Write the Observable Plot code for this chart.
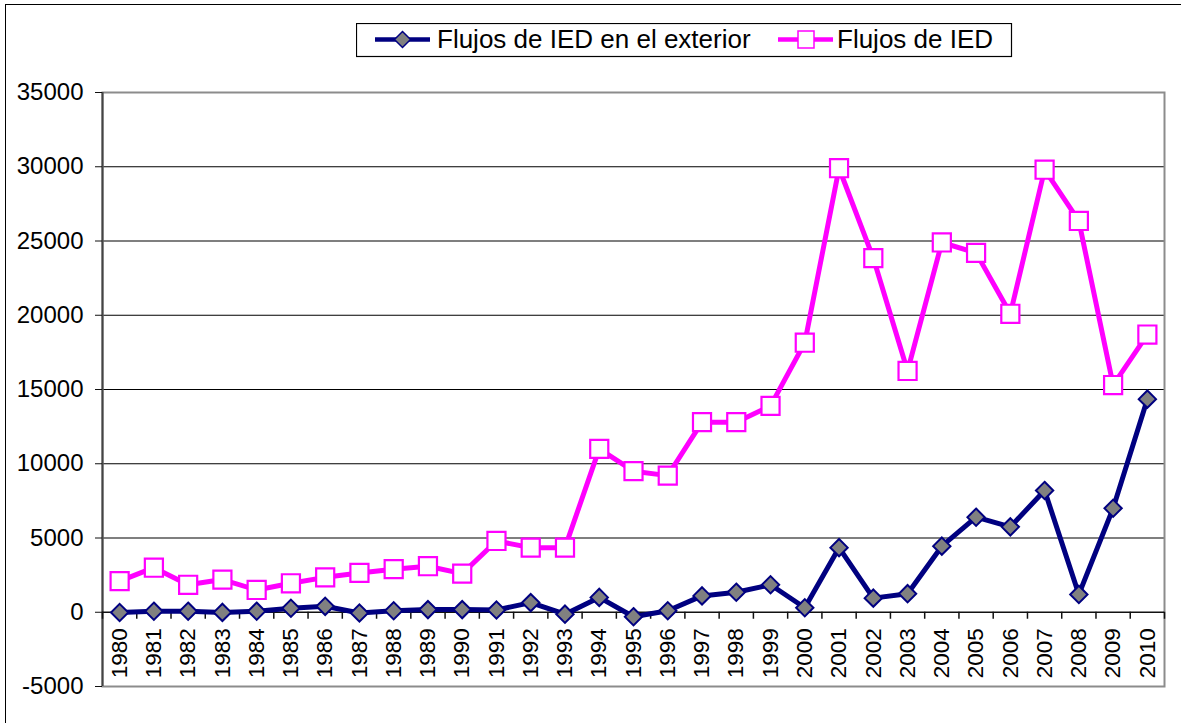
<!DOCTYPE html>
<html><head><meta charset="utf-8">
<script src="https://cdn.jsdelivr.net/npm/d3@7"></script>
<script src="https://cdn.jsdelivr.net/npm/@observablehq/plot@0.6"></script>
<style>
html,body{margin:0;padding:0;background:#fff;overflow:hidden;width:1181px;height:723px}
#wrap{position:relative;width:1181px;height:723px;font-family:"Liberation Sans",Arial,sans-serif}
#outer{position:absolute;left:5px;top:4px;width:1200px;height:740px;border:1.5px solid #000;box-sizing:border-box}
#chart{position:absolute;left:0;top:0}
#legend{position:absolute;left:356px;top:23px}
</style></head><body>
<div id="wrap"><div id="outer"></div><div id="chart"></div><div id="legend"></div></div>
<script>
const years = [1980,1981,1982,1983,1984,1985,1986,1987,1988,1989,1990,1991,1992,1993,1994,1995,1996,1997,1998,1999,2000,2001,2002,2003,2004,2005,2006,2007,2008,2009,2010];
const outward = [-20,70,70,-10,70,270,400,-50,100,180,180,150,650,-130,1000,-300,100,1100,1350,1850,300,4350,950,1250,4450,6400,5750,8200,1200,7000,14350];
const inward = [2100,3000,1850,2200,1500,1950,2350,2650,2900,3100,2600,4800,4350,4350,11000,9500,9200,12800,12800,13900,18150,29900,23850,16250,24900,24200,20100,29800,26350,15300,18700];
const seriesNames = ["Flujos de IED en el exterior","Flujos de IED"];
const yTicks = [-5000,0,5000,10000,15000,20000,25000,30000,35000];
const gridValues = [5000,10000,15000,20000,25000,30000];

const boundaries = years.map(y => y - 0.5).concat([years[years.length - 1] + 0.5]);
const xDomain = [boundaries[0], boundaries[boundaries.length - 1]];
const navy = "#000080", magenta = "#ff00ff";

const plot = Plot.plot({
  width: 1181, height: 723,
  marginLeft: 102, marginRight: 17, marginTop: 92, marginBottom: 37,
  style: {fontFamily: "Liberation Sans, Arial, sans-serif", background: "transparent", overflow: "visible", color: "#000"},
  x: {type: "linear", domain: xDomain, axis: null},
  y: {domain: [-5000, 35000], axis: null},
  marks: [
    Plot.gridY(gridValues, {stroke: "#000", strokeOpacity: 1, strokeWidth: 1.2}),
    Plot.frame({stroke: "#8c8c8c", strokeWidth: 2}),
    Plot.ruleX([xDomain[0]], {stroke: "#444", strokeWidth: 2}),
    Plot.ruleY([0], {stroke: "#111", strokeWidth: 1.5}),
    Plot.ruleX(boundaries, {x: d => d, y1: () => 0, y2: () => 0, insetBottom: -7, stroke: "#111", strokeWidth: 1.5}),
    Plot.axisY(yTicks, {tickSize: 7, tickPadding: 12, fontSize: 24, tickFormat: d => String(d), label: null, stroke: "#111", fill: "#000"}),
    Plot.text(years, {x: d => d, y: () => 0, text: d => String(d), rotate: -90, textAnchor: "end", dy: 16, fontSize: 22.5, fill: "#000"}),
    Plot.line(outward, {x: (d, i) => years[i], y: d => d, stroke: navy, strokeWidth: 5}),
    Plot.dot(outward, {x: (d, i) => years[i], y: d => d, symbol: "diamond2", r: 7.8, fill: "#808080", stroke: navy, strokeWidth: 2}),
    Plot.line(inward, {x: (d, i) => years[i], y: d => d, stroke: magenta, strokeWidth: 5}),
    Plot.dot(inward, {x: (d, i) => years[i], y: d => d, symbol: "square", r: 10.2, fill: "#fff", stroke: magenta, strokeWidth: 2.2})
  ]
});
document.getElementById("chart").appendChild(plot);

// legend
const L = d3.create("svg").attr("width", 657).attr("height", 35)
  .style("font-family", "Liberation Sans, Arial, sans-serif");
L.append("rect").attr("x", 0.5).attr("y", 0.5).attr("width", 655).attr("height", 33)
  .attr("fill", "#fff").attr("stroke", "#000").attr("stroke-width", 1.2);
L.append("line").attr("x1", 19).attr("x2", 74).attr("y1", 16.5).attr("y2", 16.5)
  .attr("stroke", navy).attr("stroke-width", 4.5);
L.append("path").attr("d", "M46.5,8.5L54.5,16.5L46.5,24.5L38.5,16.5Z")
  .attr("fill", "#808080").attr("stroke", navy).attr("stroke-width", 1.5);
L.append("text").attr("x", 81).attr("y", 25).attr("font-size", 26).attr("fill", "#000").text(seriesNames[0]);
L.append("line").attr("x1", 422).attr("x2", 477).attr("y1", 16.5).attr("y2", 16.5)
  .attr("stroke", magenta).attr("stroke-width", 4.5);
L.append("rect").attr("x", 442).attr("y", 8).attr("width", 16).attr("height", 17)
  .attr("fill", "#fff").attr("stroke", magenta).attr("stroke-width", 1.5);
L.append("text").attr("x", 481).attr("y", 25).attr("font-size", 26).attr("fill", "#000").text(seriesNames[1]);
document.getElementById("legend").appendChild(L.node());
</script>
</body></html>
